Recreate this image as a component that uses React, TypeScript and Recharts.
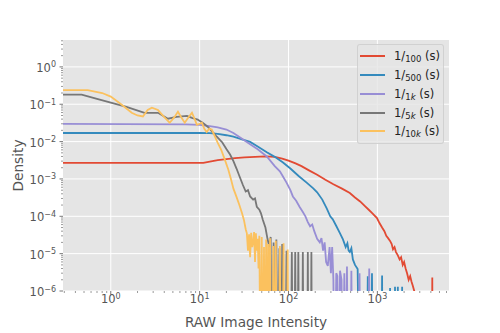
import { LineChart, Line, XAxis, YAxis, CartesianGrid, Label } from "recharts"

type Pt = [number, number]

const FONT = "'DejaVu Sans', sans-serif"
const INK = "#555555"
// empty histogram bin: density 0, drawn below the axis like matplotlib's clip
const Z = 1e-9

const X_MAJOR = [1, 10, 100, 1000]
const Y_MAJOR = [1, 0.1, 0.01, 0.001, 0.0001, 0.00001, 0.000001]
const MINOR_STEPS = [2, 3, 4, 5, 6, 7, 8, 9]
const X_DOMAIN: [number, number] = [0.29, 6400]
const Y_DOMAIN: [number, number] = [0.000001, 5.25]

const X_MINOR = [0.1, 1, 10, 100, 1000]
  .flatMap((d) => MINOR_STEPS.map((m) => m * d))
  .filter((v) => v > X_DOMAIN[0] && v < X_DOMAIN[1])
const Y_MINOR = [0.000001, 0.00001, 0.0001, 0.001, 0.01, 0.1, 1]
  .flatMap((d) => MINOR_STEPS.map((m) => m * d))
  .filter((v) => v > Y_DOMAIN[0] && v < Y_DOMAIN[1])

const exp100: Pt[] = [
  [0.29, 0.0027], [11, 0.0027], [13, 0.0029], [16, 0.0032], [20, 0.0034], [25, 0.0036],
  [32, 0.0038], [42, 0.0039], [55, 0.004], [70, 0.0039], [85, 0.0035], [100, 0.0031],
  [120, 0.0026], [140, 0.0022], [170, 0.0017], [210, 0.0013], [260, 9.5e-4], [320, 7.2e-4],
  [400, 5.5e-4], [490, 4.2e-4], [560, 3.2e-4], [640, 2.5e-4], [720, 1.9e-4], [800, 1.5e-4],
  [880, 1.2e-4], [990, 9e-5], [1060, 6.5e-5], [1130, 5e-5], [1200, 4e-5], [1260, 3e-5],
  [1320, 2.6e-5], [1390, 2.2e-5], [1450, 1.8e-5], [1500, 1.3e-5], [1560, 1.5e-5], [1620, 1.1e-5],
  [1700, 9e-6], [1780, 7e-6], [1850, 8e-6], [1930, 5e-6], [2000, 6e-6], [2080, 4e-6],
  [2160, 3e-6], [2250, 2e-6], [2340, 2.5e-6], [2420, 1.8e-6], [2500, 1.4e-6], [2600, 1e-6],
  [2700, Z], [4100, Z], [4150, 2.3e-6], [4200, Z],
]

const exp500: Pt[] = [
  [0.29, 0.017], [10, 0.017], [13, 0.0168], [16, 0.016], [20, 0.0148], [24, 0.0135],
  [30, 0.0115], [37, 0.0098], [45, 0.0074], [57, 0.0052], [70, 0.0039], [86, 0.0028],
  [105, 0.0019], [130, 0.0012], [160, 8e-4], [190, 5.6e-4], [210, 4.4e-4], [240, 2.8e-4],
  [270, 1.6e-4], [295, 1e-4], [315, 8.3e-5], [345, 5.5e-5], [380, 3.5e-5], [410, 2.4e-5],
  [440, 1.5e-5], [460, 1.9e-5], [475, 1.2e-5], [490, 1.1e-5], [510, 1.4e-5], [530, 7e-6],
  [560, 5e-6], [600, 3.9e-6], [630, Z], [760, Z], [780, 2.5e-6], [800, Z], [850, Z],
  [870, 3e-6], [890, Z], [1110, Z], [1130, 2.6e-6], [1150, Z], [1370, Z], [1390, 1.2e-6],
  [1410, Z], [1560, Z], [1580, 1.3e-6], [1600, Z], [1680, Z], [1700, 1.3e-6], [1720, Z],
  [1880, Z], [1900, 1.3e-6], [1920, Z],
]

const exp1k: Pt[] = [
  [0.29, 0.03], [7, 0.029], [10, 0.028], [13, 0.026], [16, 0.024], [20, 0.021], [24, 0.017],
  [30, 0.012], [37, 0.0085], [45, 0.0062], [57, 0.004], [70, 0.0022], [80, 0.0016],
  [86, 0.0012], [95, 8e-4], [105, 5e-4], [112, 3.4e-4], [122, 2.6e-4], [133, 1.8e-4],
  [145, 1.3e-4], [155, 1e-4], [165, 7e-5], [175, 5.4e-5], [185, 6e-5], [195, 4e-5],
  [210, 2.5e-5], [225, 2e-5], [235, 2.6e-5], [245, 1.2e-5], [255, 2e-5], [265, 6e-6],
  [277, 4.7e-6], [290, 1.5e-5], [300, 3e-6], [310, 1.5e-5], [320, 2e-6], [330, Z],
  [345, 3e-6], [355, 2.5e-6], [365, Z], [380, 3.5e-6], [395, 2e-6], [410, Z], [425, 3e-6],
  [440, Z], [455, 4.5e-6], [470, Z], [495, Z], [510, 3.5e-6], [525, Z], [610, Z],
  [630, 3e-6], [650, Z], [790, Z], [810, 4e-6], [830, Z],
]

const exp5k: Pt[] = [
  [0.29, 0.18], [0.47, 0.18], [0.7, 0.14], [1, 0.11], [1.5, 0.085], [2.4, 0.059], [3.4, 0.059],
  [4.4, 0.041], [5.5, 0.046], [7.2, 0.049], [8.2, 0.043], [9.5, 0.039], [11, 0.031],
  [12.3, 0.025], [14, 0.018], [15.6, 0.0135], [18, 0.0095], [20, 0.0063], [22, 0.0045],
  [24, 0.003], [26, 0.0019], [28, 0.0012], [30.6, 7e-4], [33, 4.6e-4], [35, 5e-4],
  [37, 3.4e-4], [40, 2.8e-4], [42, 3e-4], [44, 1.8e-4], [47, 1.5e-4], [49, 1.2e-4],
  [51.5, 8e-5], [55, 5e-5], [58, 2.5e-5], [61, 1.5e-5], [63, 2.8e-5], [65, Z], [68, 2e-5],
  [70, Z], [73, 2.4e-5], [76, Z], [79, 1.4e-5], [82, Z], [85, 1.8e-5], [88, Z], [92, Z],
  [95, 1.2e-5], [98, Z], [106, Z], [109, 1.1e-5], [112, Z], [116, Z], [119, 1.1e-5],
  [122, Z], [126, Z], [129, 1.1e-5], [132, Z], [142, Z], [145, 1.1e-5], [148, Z],
  [162, Z], [165, 1.1e-5], [168, Z], [178, Z], [181, 1.1e-5], [184, Z],
]

const exp10k: Pt[] = [
  [0.29, 0.24], [0.55, 0.24], [0.8, 0.2], [1, 0.16], [1.33, 0.097], [1.72, 0.059], [2, 0.05],
  [2.3, 0.047], [2.6, 0.07], [2.9, 0.081], [3.4, 0.07], [4, 0.045], [4.6, 0.032],
  [5.2, 0.045], [5.7, 0.063], [6.2, 0.045], [6.8, 0.032], [7.5, 0.045], [8.2, 0.059],
  [8.8, 0.04], [9.3, 0.028], [10, 0.03], [10.6, 0.032], [11.3, 0.022], [12, 0.018],
  [12.8, 0.022], [13.7, 0.021], [15, 0.013], [16, 0.0093], [17.5, 0.006], [19.2, 0.0033],
  [21, 0.0018], [22.5, 0.001], [24, 5.5e-4], [26, 3.3e-4], [28, 2e-4], [30, 1.2e-4],
  [31.5, 8e-5], [33, 4.5e-5], [34, 3.5e-5], [35, 1.2e-5], [36, 3.3e-5], [37, 8e-6],
  [38, 3.6e-5], [39, 1.5e-5], [40, 2e-5], [41, 3.8e-5], [42, 6e-6], [43, 3.5e-5],
  [44, 1.2e-5], [45, 2.5e-5], [46, 4e-6], [47, 3e-5], [48.5, Z], [50, 2.8e-5], [51.5, Z],
  [53, 1.5e-5], [54.5, Z], [56, 2.4e-5], [57.5, Z], [59, 1.8e-5], [60.5, Z], [62, 2.6e-5],
  [63.5, Z], [66, Z], [67.5, 1.6e-5], [69, Z], [72, 2.2e-5], [74, Z], [78, Z],
  [80, 1.6e-5], [82, Z], [86, Z], [88, 1.9e-5], [90, Z], [96, Z], [98, 1.3e-5], [100, Z],
]

const SERIES = [
  { den: "100", color: "#E24A33", pts: exp100 },
  { den: "500", color: "#348ABD", pts: exp500 },
  { den: "1k", color: "#988ED5", pts: exp1k },
  { den: "5k", color: "#777777", pts: exp5k },
  { den: "10k", color: "#FBC15E", pts: exp10k },
]

const expText = (v: number) => {
  const e = Math.round(Math.log10(v))
  return e < 0 ? "\u2212" + -e : String(e)
}

const XTick = (props: any) => {
  const { x, y, payload } = props
  const major = X_MAJOR.includes(payload.value)
  return (
    <g>
      <line x1={x} x2={x} y1={y} y2={y + (major ? 3.5 : 2)} stroke={INK} strokeWidth={major ? 0.8 : 0.6} />
      {major && (
        <text x={x} y={y + 12} textAnchor="middle" fill={INK} fontSize={11.5} fontFamily={FONT}>
          10<tspan dy={-4.5} fontSize={8}>{expText(payload.value)}</tspan>
        </text>
      )}
    </g>
  )
}

const YTick = (props: any) => {
  const { x, y, payload } = props
  const major = Y_MAJOR.includes(payload.value)
  return (
    <g>
      <line x1={x} x2={x - (major ? 3.5 : 2)} y1={y} y2={y} stroke={INK} strokeWidth={major ? 0.8 : 0.6} />
      {major && (
        <text x={x - 7} y={y + 5} textAnchor="end" fill={INK} fontSize={11.5} fontFamily={FONT}>
          10<tspan dy={-4.5} fontSize={8}>{expText(payload.value)}</tspan>
        </text>
      )}
    </g>
  )
}

function Den({ den }: { den: string }) {
  const k = den.endsWith("k")
  return (
    <span style={{ fontSize: 8.5, position: "relative", top: 2 }}>
      {k ? den.slice(0, -1) : den}
      {k && <i>k</i>}
    </span>
  )
}

function LegendBox() {
  return (
    <div
      style={{
        position: "absolute",
        left: 357,
        top: 44,
        width: 87,
        boxSizing: "border-box",
        background: "rgba(229,229,229,0.8)",
        border: "1px solid rgba(204,204,204,0.8)",
        borderRadius: 3,
        padding: "2px 0 2px 2px",
        fontFamily: FONT,
        fontSize: 11.5,
        color: "#222",
      }}
    >
      {SERIES.map((s) => (
        <div key={s.den} style={{ display: "flex", alignItems: "center", height: 18.75 }}>
          <div style={{ width: 25, height: 1.8, background: s.color, marginRight: 9, flex: "none" }} />
          <span style={{ whiteSpace: "nowrap" }}>
            1/<Den den={s.den} /> (s)
          </span>
        </div>
      ))}
    </div>
  )
}

export default function App() {
  return (
    <div style={{ position: "absolute", left: 0, top: 0, width: 500, height: 333, background: "#fff" }}>
      <LineChart width={500} height={333} margin={{ top: 40, right: 51, bottom: 0, left: 0 }}>
        <CartesianGrid
          fill="#E5E5E5"
          stroke="#ffffff"
          strokeWidth={1}
          horizontalValues={Y_MAJOR}
          verticalValues={X_MAJOR}
        />
        <XAxis
          dataKey="x"
          type="number"
          scale="log"
          domain={X_DOMAIN}
          allowDataOverflow
          ticks={[...X_MAJOR, ...X_MINOR]}
          interval={0}
          tick={XTick}
          tickLine={false}
          axisLine={false}
          tickSize={0}
          tickMargin={0}
          height={42}
        >
          <Label
            content={(p: any) => {
              const vb = p.viewBox
              return (
                <text x={vb.x + vb.width / 2} y={vb.y + 36} textAnchor="middle" fill={INK} fontSize={13.7} fontFamily={FONT}>
                  RAW Image Intensity
                </text>
              )
            }}
          />
        </XAxis>
        <YAxis
          type="number"
          scale="log"
          domain={Y_DOMAIN}
          allowDataOverflow
          ticks={[...Y_MAJOR, ...Y_MINOR]}
          interval={0}
          tick={YTick}
          tickLine={false}
          axisLine={false}
          tickSize={0}
          tickMargin={0}
          width={63}
        >
          <Label
            content={(p: any) => {
              const vb = p.viewBox
              const cx = vb.x + 23
              const cy = vb.y + vb.height / 2
              return (
                <text x={cx} y={cy} transform={`rotate(-90 ${cx} ${cy})`} textAnchor="middle" fill={INK} fontSize={13.7} fontFamily={FONT}>
                  Density
                </text>
              )
            }}
          />
        </YAxis>
        {SERIES.map((s) => (
          <Line
            key={s.den}
            data={s.pts.map(([x, y]) => ({ x, y }))}
            dataKey="y"
            stroke={s.color}
            strokeWidth={1.8}
            dot={false}
            type="linear"
            isAnimationActive={false}
          />
        ))}
      </LineChart>
      <LegendBox />
    </div>
  )
}
